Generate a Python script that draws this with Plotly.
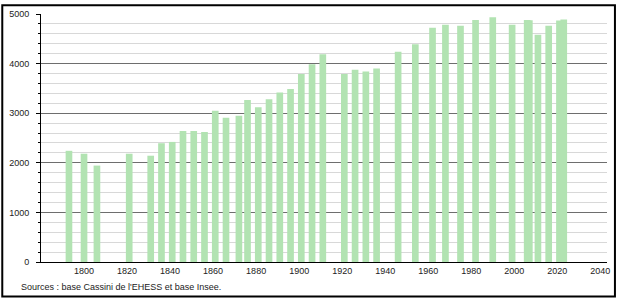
import plotly.graph_objects as go

years = [1793, 1800, 1806, 1821, 1831, 1836, 1841, 1846, 1851, 1856,
         1861, 1866, 1872, 1876, 1881, 1886, 1891, 1896, 1901, 1906,
         1911, 1921, 1926, 1931, 1936, 1946, 1954, 1962, 1968, 1975,
         1982, 1990, 1999, 2006, 2007, 2011, 2016, 2021, 2023]
population = [2242, 2183, 1944, 2183, 2143, 2395, 2421, 2639, 2639, 2619,
              3049, 2910, 2950, 3268, 3121, 3280, 3419, 3486, 3790, 3988,
              4187, 3790, 3876, 3843, 3902, 4240, 4391, 4722, 4782, 4762,
              4881, 4934, 4782, 4881, 4875, 4583, 4762, 4870, 4890]
x_ticks = [1800, 1820, 1840, 1860, 1880, 1900, 1920, 1940, 1960, 1980, 2000, 2020, 2040]
y_ticks = [0, 1000, 2000, 3000, 4000, 5000]
source_text = "Sources : base Cassini de l'EHESS et base Insee."

W, H = 619, 298
L, R, T, B = 40, 9, 10, 36
pw, ph = W - L - R, H - T - B

fig = go.Figure(go.Bar(x=years, y=population, width=3.1,
                       marker=dict(color="#b2e3b2", line=dict(width=0))))

fig.update_layout(
    width=W, height=H,
    margin=dict(l=L, r=R, t=T, b=B, pad=0),
    paper_bgcolor="white", plot_bgcolor="white",
    font=dict(family="Liberation Sans, Arial, sans-serif", size=9, color="#222"),
    showlegend=False,
    xaxis=dict(range=[1780, 2043.1], tickvals=x_ticks, showgrid=False,
               showline=True, linecolor="black", linewidth=1, ticks="",
               zeroline=False, fixedrange=True),
    yaxis=dict(range=[0, 5000], tickvals=y_ticks, showgrid=True,
               gridcolor="#6e6e6e", gridwidth=1, showline=True,
               linecolor="black", linewidth=1, ticks="outside", ticklen=4,
               tickcolor="black", zeroline=False, ticklabelstandoff=5,
               minor=dict(dtick=200, showgrid=True, gridcolor="#d8d8d8",
                          ticks="outside", ticklen=2, tickcolor="black")),
    shapes=[dict(type="rect", xref="paper", yref="paper",
                 x0=(-L + 1) / pw, x1=(W - L - 1) / pw,
                 y0=(-B + 1) / ph, y1=(ph + T - 1) / ph,
                 line=dict(color="black", width=2), layer="above")],
    annotations=[dict(text=source_text, xref="paper", yref="paper",
                      x=(18 - L) / pw, y=(262 - 287) / ph,
                      xanchor="left", yanchor="middle", showarrow=False,
                      font=dict(size=9, color="#222"))],
)

fig.write_html("out.html")
